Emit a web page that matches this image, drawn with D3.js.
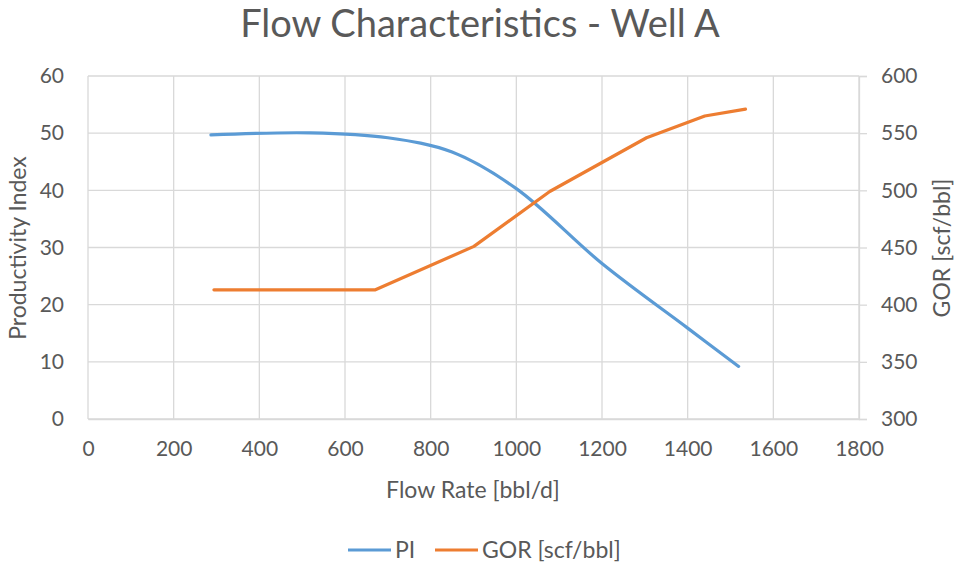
<!DOCTYPE html>
<html>
<head>
<meta charset="utf-8">
<script src="https://cdn.jsdelivr.net/npm/d3@7"></script>
<style>
  html, body { margin: 0; padding: 0; background: #fff; }
  svg text { font-family: Lato, "Open Sans", sans-serif; fill: #595959; }
</style>
</head>
<body>
<svg id="chart" width="955" height="563"></svg>
<script>
// Well A flow data
const piRates = [287, 520, 700, 850, 1000, 1200, 1400, 1519];
const piValues = [49.7, 50.05, 49.2, 46.7, 40.3, 27.2, 15.9, 9.2];
const gorRates = [294, 671, 901, 1078, 1304, 1440, 1535];
const gorValues = [413, 413, 451, 499, 546, 565, 571];

const xTicks = [0, 200, 400, 600, 800, 1000, 1200, 1400, 1600, 1800];
const piTicks = [0, 10, 20, 30, 40, 50, 60];
const gorTicks = [300, 350, 400, 450, 500, 550, 600];

const seriesNames = ["PI", "GOR [scf/bbl]"];
const colors = ["#5B9BD5", "#ED7D31"];

const svg = d3.select("#chart");
const plot = { left: 88, right: 859, top: 76, bottom: 419 };

const x = d3.scaleLinear().domain([0, 1800]).range([plot.left, plot.right]);
const yPI = d3.scaleLinear().domain([0, 60]).range([plot.bottom, plot.top]);
const yGOR = d3.scaleLinear().domain([300, 600]).range([plot.bottom, plot.top]);

// gridlines
const grid = svg.append("g").attr("stroke", "#d9d9d9").attr("stroke-width", 1.3);
grid.selectAll("line.h").data(piTicks).join("line")
  .attr("x1", plot.left).attr("x2", plot.right)
  .attr("y1", d => yPI(d)).attr("y2", d => yPI(d));
grid.selectAll("line.v").data(xTicks).join("line")
  .attr("y1", plot.top).attr("y2", plot.bottom)
  .attr("x1", d => x(d)).attr("x2", d => x(d));

// axes
const fs = 21;
const fmt = d3.format("d");
const xAxis = svg.append("g").attr("transform", `translate(0,${plot.bottom})`)
  .call(d3.axisBottom(x).tickValues(xTicks).tickFormat(fmt).tickSize(0).tickPadding(22));
const yAxisL = svg.append("g").attr("transform", `translate(${plot.left},0)`)
  .call(d3.axisLeft(yPI).tickValues(piTicks).tickFormat(fmt).tickSize(0).tickPadding(24));
const yAxisR = svg.append("g").attr("transform", `translate(${plot.right},0)`)
  .call(d3.axisRight(yGOR).tickValues(gorTicks).tickFormat(fmt).tickSize(8).tickPadding(14));
[xAxis, yAxisL, yAxisR].forEach(g => {
  g.select(".domain").attr("stroke", "#d9d9d9").attr("stroke-width", 1.3);
  g.selectAll(".tick line").attr("stroke", "#d9d9d9").attr("stroke-width", 1.3);
  g.selectAll(".tick text").attr("font-size", fs).attr("fill", "#595959");
  g.attr("font-family", null).attr("font-size", null);
});
yAxisL.select(".domain").remove();

// series lines
const piData = piRates.map((r, i) => [r, piValues[i]]);
const gorData = gorRates.map((r, i) => [r, gorValues[i]]);
svg.append("path").datum(piData)
  .attr("fill", "none").attr("stroke", colors[0]).attr("stroke-width", 3.2)
  .attr("stroke-linecap", "round").attr("stroke-linejoin", "round")
  .attr("d", d3.line().x(d => x(d[0])).y(d => yPI(d[1])).curve(d3.curveCatmullRom));
svg.append("path").datum(gorData)
  .attr("fill", "none").attr("stroke", colors[1]).attr("stroke-width", 3.2)
  .attr("stroke-linecap", "round").attr("stroke-linejoin", "round")
  .attr("d", d3.line().x(d => x(d[0])).y(d => yGOR(d[1])));

// titles
svg.append("text").attr("x", 480).attr("y", 37).attr("text-anchor", "middle")
  .attr("font-size", 38).text("Flow Characteristics - Well A");
svg.append("text").attr("x", 473).attr("y", 498).attr("text-anchor", "middle")
  .attr("font-size", 23).text("Flow Rate [bbl/d]");
svg.append("text").attr("transform", "translate(26,248) rotate(-90)").attr("text-anchor", "middle")
  .attr("font-size", 23).text("Productivity Index");
svg.append("text").attr("transform", "translate(950,248) rotate(-90)").attr("text-anchor", "middle")
  .attr("font-size", 23).text("GOR [scf/bbl]");

// legend
const legendX = [348, 435];
const legend = svg.append("g");
seriesNames.forEach((name, i) => {
  legend.append("line").attr("x1", legendX[i]).attr("x2", legendX[i] + 43)
    .attr("y1", 550).attr("y2", 550).attr("stroke", colors[i]).attr("stroke-width", 3.2);
  legend.append("text").attr("x", legendX[i] + 47).attr("y", 558)
    .attr("font-size", 23).text(name);
});
</script>
</body>
</html>
